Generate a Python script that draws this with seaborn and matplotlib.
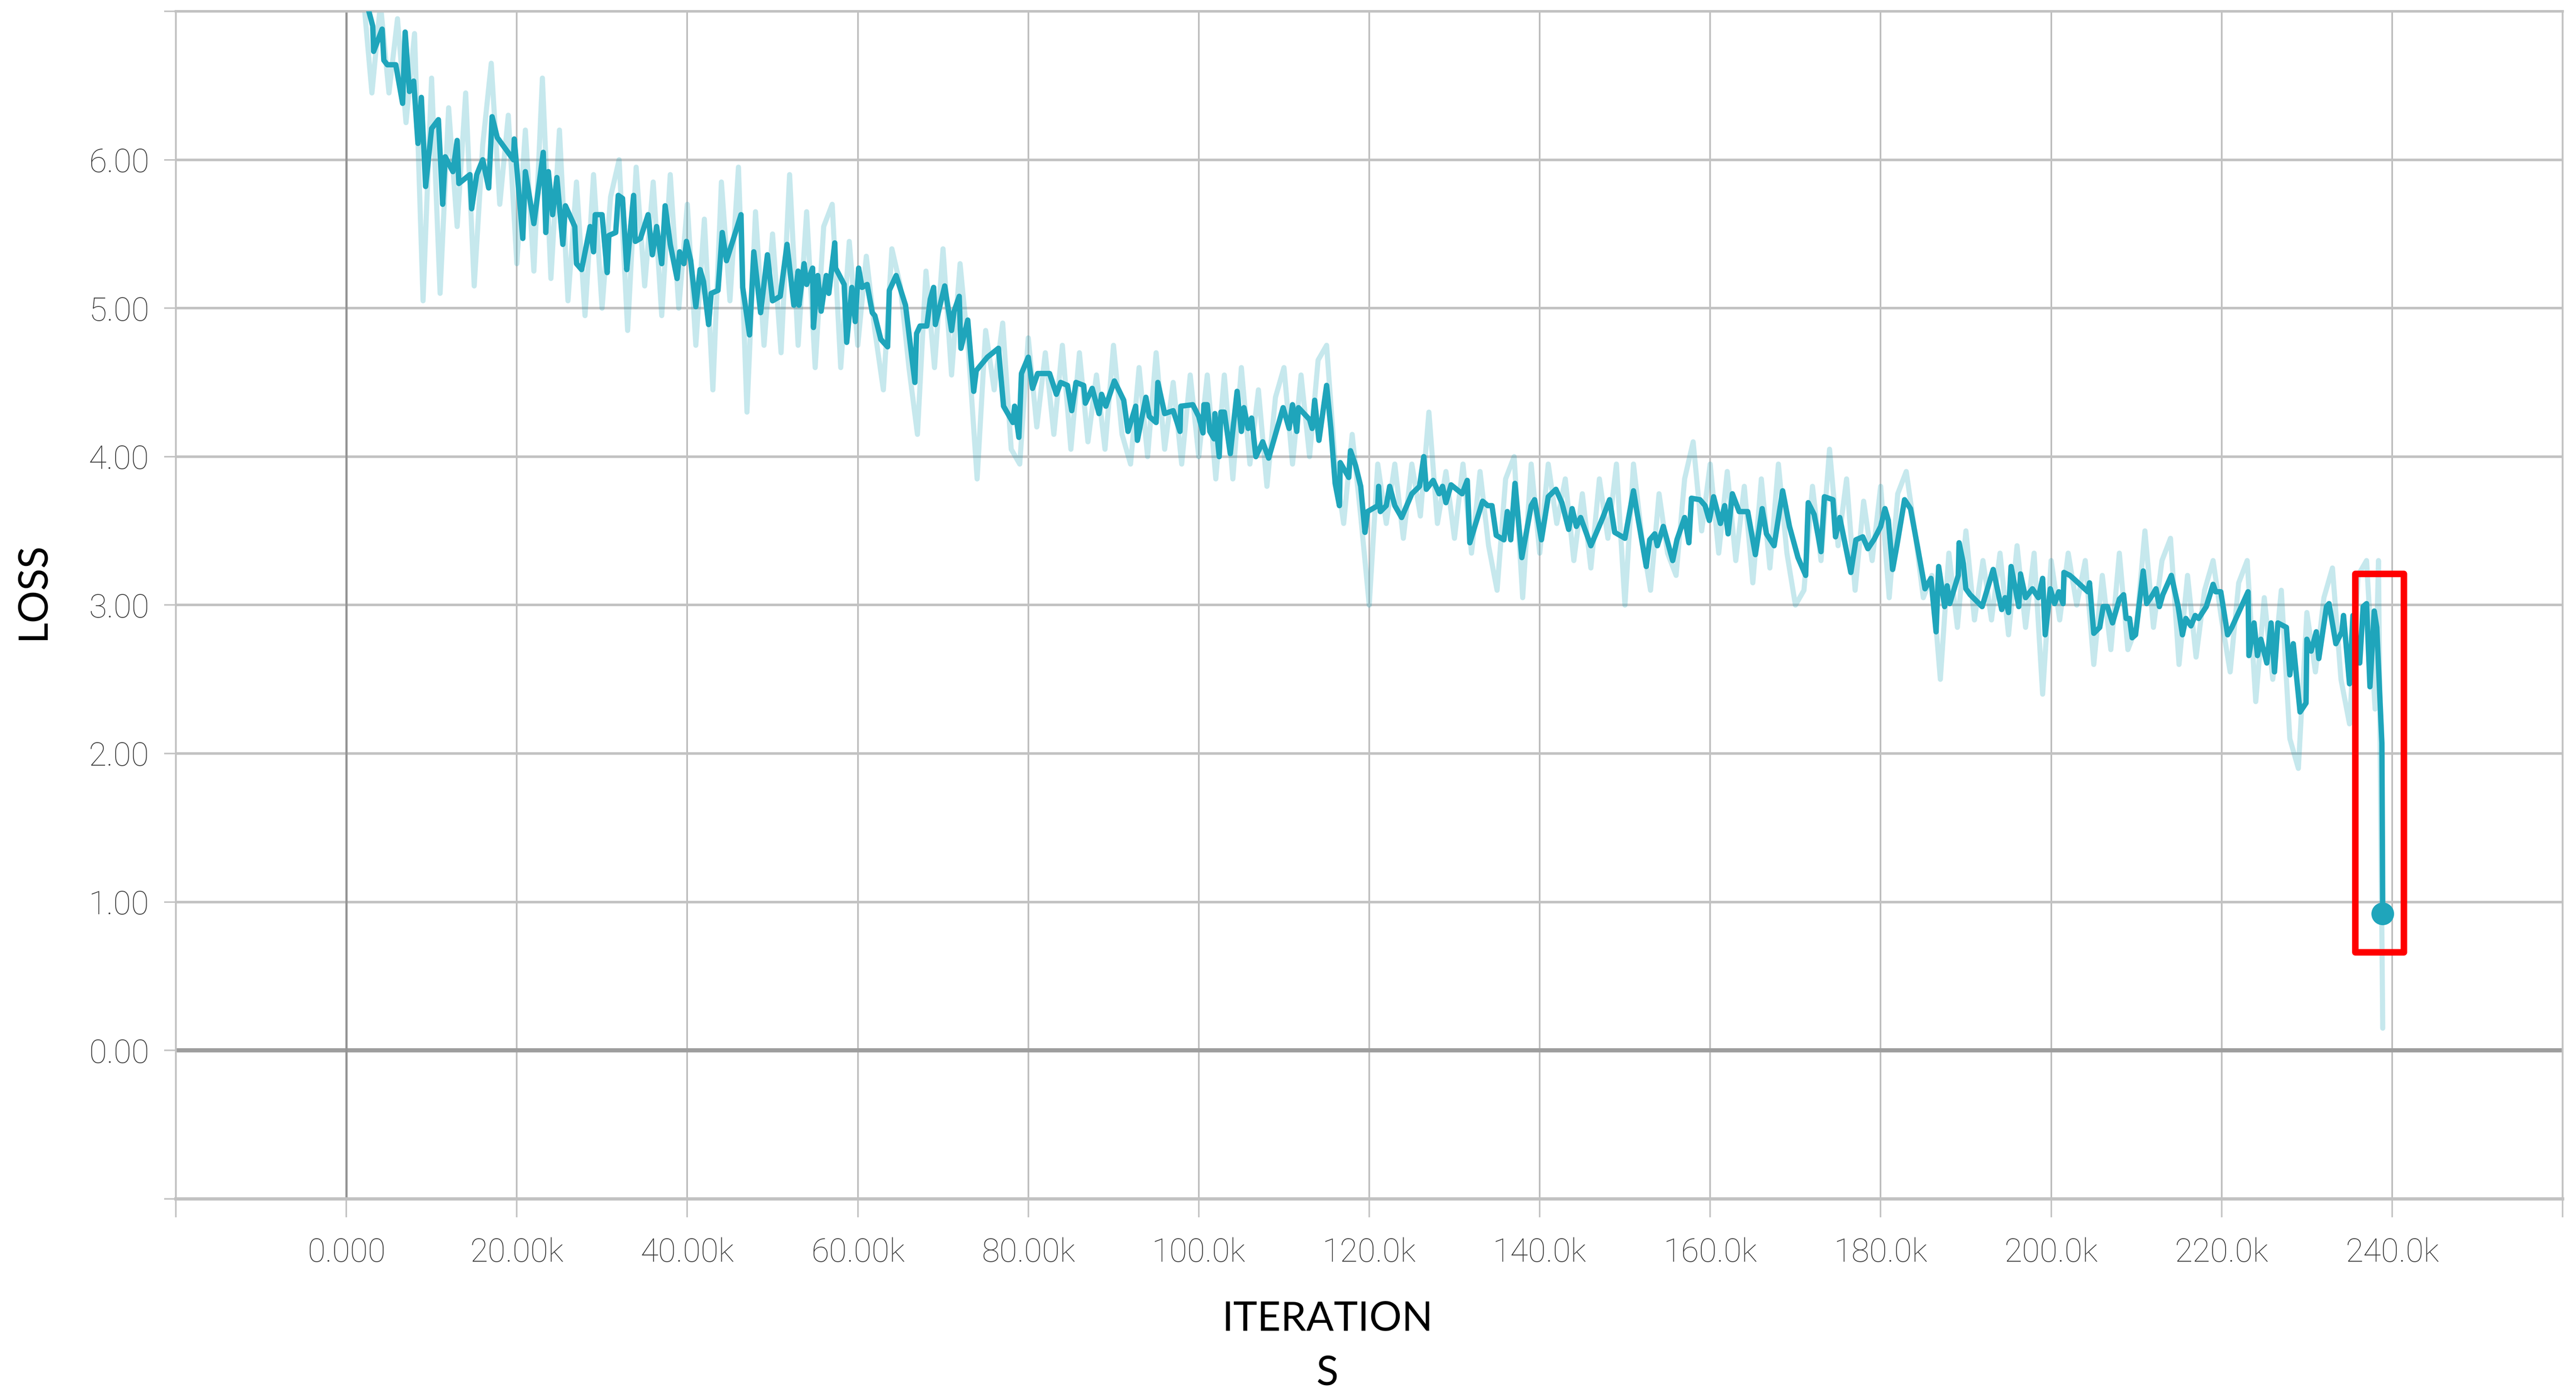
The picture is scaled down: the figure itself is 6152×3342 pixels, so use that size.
import pandas as pd
import seaborn as sns
import matplotlib.pyplot as plt
from matplotlib.patches import Rectangle

# smoothed loss curve, step in thousands of iterations
smooth_step = [
    1.5, 3.1, 3.2, 4.2, 4.4, 4.8, 5.8, 6.6, 6.9, 7.4, 7.9, 8.4, 8.8, 9.3, 10.0,
    10.8, 11.3, 11.6, 12.5, 13.0, 13.2, 14.5, 14.7, 15.3, 16.0, 16.7, 17.1, 17.7,
    19.6, 19.7, 20.7, 21.0, 22.0, 23.1, 23.4, 23.7, 24.2, 24.7, 25.4, 25.7, 26.8,
    27.0, 27.6, 28.6, 29.0, 29.2, 30.0, 30.6, 30.8, 31.6, 31.9, 32.4, 32.9, 33.2,
    33.7, 33.9, 34.5, 35.4, 35.9, 36.4, 37.0, 37.4, 38.0, 38.8, 39.1, 39.6, 39.9,
    40.4, 41.0, 41.5, 41.9, 42.5, 42.8, 43.6, 44.1, 44.6, 46.3, 46.5, 47.3, 47.8,
    48.6, 49.4, 50.0,
    50.9, 51.7, 52.5, 53.0, 53.1, 53.7, 54.0, 54.7, 54.8, 55.3, 55.7, 56.3, 56.6,
    57.3, 57.4, 58.4, 58.7, 59.3, 59.7, 60.1, 60.5, 61.1, 61.7, 62.0, 62.7, 63.5,
    63.7, 64.5, 65.6, 66.7, 66.9, 67.3, 68.1, 68.5, 68.9, 69.1, 70.2, 71.0, 71.3,
    71.9, 72.1, 72.9, 73.6, 73.9, 75.2, 76.5, 77.1, 78.2, 78.4, 78.9, 79.2, 80.0,
    80.5, 81.1, 82.5, 83.3, 83.8, 84.6, 85.1, 85.6, 86.5, 86.7, 87.5, 88.3, 88.6,
    89.1, 90.1, 91.2, 91.7, 92.6, 92.8, 93.8, 94.2, 95.0, 95.2, 96.0, 97.0, 97.8,
    97.9, 99.3,
    100.0, 100.5, 100.6, 101.0, 101.3, 101.8, 101.9, 102.4, 102.6, 103.0, 103.7,
    104.5, 105.0, 105.3, 105.8, 106.2, 106.7, 107.5, 108.2, 109.0, 109.9, 110.6,
    111.0, 111.5, 111.7, 113.0, 113.3, 113.6, 114.1, 115.0, 115.5, 116.0, 116.5,
    116.6, 117.6, 117.8, 118.4, 119.0, 119.5, 119.8, 121.0, 121.1, 121.3, 122.0,
    122.4, 123.0, 123.8, 125.0, 125.9, 126.4, 126.7, 127.5, 128.2, 128.6, 129.0,
    129.6, 130.9, 131.5, 131.8, 132.6, 133.3, 133.9, 134.4, 134.9, 135.8, 136.2,
    136.6, 137.1, 137.9, 139.0, 139.4, 140.2, 141.0, 141.9, 142.6, 143.4, 143.8,
    144.3, 144.8, 146.0, 147.4, 148.2, 148.8, 150.0,
    151.0, 151.4, 152.5, 152.9, 153.5, 153.8, 154.5, 155.6, 156.1, 157.0, 157.5,
    157.8, 158.8, 159.4, 159.9, 160.4, 161.2, 161.7, 162.1, 162.6, 163.4, 164.4,
    165.3, 166.1, 166.6, 167.5, 168.5, 169.3, 170.3, 171.2, 171.5, 172.2, 173.0,
    173.4, 174.4, 174.7, 175.2, 176.5, 177.1, 177.9, 178.5, 179.2, 180.0, 180.5,
    180.9, 181.4, 181.9, 182.8, 183.5, 184.3, 185.2, 185.9, 186.5, 186.8, 187.5,
    187.8, 188.1, 189.1, 189.2, 189.7, 190.0, 190.5, 191.9, 193.2, 194.2, 194.6,
    195.0, 195.3, 196.2, 196.4, 197.0, 197.8, 198.5, 199.0, 199.3, 199.9,
    200.4, 200.9, 201.4, 201.5, 202.2, 202.6, 204.3, 204.5, 205.0, 205.7, 206.1,
    206.6, 207.2, 208.0, 208.5, 208.8, 209.2, 209.5, 209.9, 210.8, 211.2, 211.9,
    212.3, 212.7, 213.1, 214.1, 214.9, 215.4, 215.8, 216.4, 216.9, 217.3, 218.2,
    219.0, 219.3, 219.9, 220.7, 221.2, 223.1, 223.2, 223.8, 224.2, 224.6, 225.3,
    225.8, 226.2, 226.6, 227.6, 228.0, 228.4, 229.2, 229.9, 230.0, 230.5, 231.1,
    231.4, 232.3, 232.6, 233.4, 234.1, 234.3, 235.0, 235.4, 236.2, 236.6, 237.0,
    237.4, 237.9, 238.2, 238.8, 238.9,
]
smooth_loss = [
    7.25, 6.90, 6.73, 6.88, 6.67, 6.64, 6.64, 6.38, 6.86, 6.46, 6.53, 6.11, 6.42, 5.82, 6.21,
    6.27, 5.70, 6.02, 5.92, 6.13, 5.84, 5.90, 5.67, 5.90, 6.00, 5.81, 6.29, 6.15,
    6.00, 6.14, 5.47, 5.92, 5.57, 6.05, 5.51, 5.92, 5.63, 5.88, 5.43, 5.69, 5.55,
    5.30, 5.26, 5.55, 5.38, 5.63, 5.63, 5.24, 5.49, 5.51, 5.76, 5.74, 5.26, 5.45,
    5.76, 5.45, 5.47, 5.63, 5.36, 5.55, 5.30, 5.69, 5.43, 5.20, 5.38, 5.30, 5.45,
    5.32, 5.01, 5.26, 5.18, 4.89, 5.10, 5.12, 5.51, 5.32, 5.63, 5.14, 4.82, 5.38,
    4.97, 5.36, 5.05,
    5.08, 5.43, 5.02, 5.25, 5.02, 5.30, 5.16, 5.27, 4.87, 5.22, 4.98, 5.22, 5.10,
    5.44, 5.27, 5.16, 4.77, 5.14, 4.91, 5.27, 5.14, 5.16, 4.97, 4.95, 4.79, 4.74,
    5.12, 5.22, 5.02, 4.50, 4.83, 4.88, 4.88, 5.06, 5.14, 4.89, 5.15, 4.85, 4.98,
    5.08, 4.73, 4.92, 4.44, 4.58, 4.67, 4.73, 4.34, 4.23, 4.34, 4.13, 4.56, 4.67,
    4.46, 4.56, 4.56, 4.42, 4.50, 4.48, 4.31, 4.50, 4.48, 4.36, 4.46, 4.29, 4.42,
    4.34, 4.51, 4.38, 4.17, 4.34, 4.11, 4.40, 4.27, 4.23, 4.50, 4.29, 4.31, 4.17,
    4.34, 4.35,
    4.27, 4.16, 4.35, 4.35, 4.17, 4.12, 4.29, 4.00, 4.30, 4.30, 4.02,
    4.44, 4.17, 4.33, 4.19, 4.26, 4.00, 4.10, 3.99, 4.15, 4.33, 4.19,
    4.35, 4.17, 4.33, 4.25, 4.19, 4.38, 4.11, 4.48, 4.19, 3.82, 3.67,
    3.96, 3.86, 4.04, 3.94, 3.80, 3.49, 3.63, 3.67, 3.80, 3.63, 3.67,
    3.80, 3.67, 3.59, 3.75, 3.80, 4.00, 3.78, 3.84, 3.75, 3.80, 3.69,
    3.81, 3.75, 3.84, 3.42, 3.57, 3.70, 3.67, 3.67, 3.47, 3.44, 3.63,
    3.44, 3.82, 3.32, 3.67, 3.71, 3.44, 3.73, 3.78, 3.69, 3.51, 3.65,
    3.53, 3.59, 3.40, 3.59, 3.71, 3.49, 3.45,
    3.77, 3.63, 3.26, 3.44, 3.48, 3.40, 3.53, 3.30, 3.44, 3.59, 3.42,
    3.72, 3.71, 3.67, 3.57, 3.73, 3.55, 3.67, 3.48, 3.75, 3.63, 3.63,
    3.34, 3.65, 3.48, 3.40, 3.77, 3.53, 3.32, 3.20, 3.69, 3.61, 3.36,
    3.73, 3.71, 3.46, 3.59, 3.22, 3.44, 3.46, 3.38, 3.44, 3.53, 3.65,
    3.57, 3.24, 3.40, 3.71, 3.65, 3.40, 3.11, 3.18, 2.82, 3.26, 2.99,
    3.13, 3.01, 3.20, 3.42, 3.28, 3.11, 3.07, 2.99, 3.24, 2.97, 3.05,
    2.95, 3.26, 2.99, 3.21, 3.05, 3.11, 3.05, 3.18, 2.80, 3.11,
    3.01, 3.09, 3.01, 3.22, 3.20, 3.18, 3.09, 3.15, 2.81, 2.85, 2.99,
    2.99, 2.88, 3.04, 3.07, 2.91, 2.91, 2.78, 2.80, 3.23, 3.01, 3.07,
    3.11, 2.99, 3.07, 3.20, 2.99, 2.80, 2.91, 2.86, 2.93, 2.91, 2.99,
    3.14, 3.09, 3.09, 2.80, 2.85, 3.09, 2.66, 2.88, 2.66, 2.77, 2.61,
    2.88, 2.55, 2.88, 2.85, 2.53, 2.74, 2.28, 2.34, 2.77, 2.69, 2.82,
    2.64, 2.99, 3.01, 2.74, 2.82, 2.93, 2.47, 2.93, 2.61, 2.99, 3.01,
    2.45, 2.96, 2.85, 2.07, 0.92,
]

# raw (unsmoothed) loss, step in thousands of iterations
raw_step = list(range(1, 239)) + [238.4, 238.9]
raw_loss = [
    7.6, 7.1, 6.45, 7.05, 6.45, 6.95, 6.25, 6.85, 5.05, 6.55,
    5.1, 6.35, 5.55, 6.45, 5.15, 6.1, 6.65, 5.7, 6.3, 5.3,
    6.2, 5.25, 6.55, 5.2, 6.2, 5.05, 5.85, 4.95, 5.9, 5.0,
    5.75, 6.0, 4.85, 5.95, 5.15, 5.85, 4.95, 5.9, 5.0, 5.7,
    4.75, 5.6, 4.45, 5.85, 5.05, 5.95, 4.3, 5.65, 4.75, 5.5,
    4.7, 5.9, 4.75, 5.65, 4.6, 5.55, 5.7, 4.6, 5.45, 4.75,
    5.35, 4.85, 4.45, 5.4, 5.15, 4.6, 4.15, 5.25, 4.6, 5.4,
    4.55, 5.3, 4.7, 3.85, 4.85, 4.45, 4.9, 4.05, 3.95, 4.8,
    4.2, 4.7, 4.15, 4.75, 4.05, 4.7, 4.1, 4.55, 4.05, 4.75,
    4.15, 3.95, 4.6, 4.0, 4.7, 4.05, 4.5, 3.95, 4.55, 4.0,
    4.55, 3.85, 4.55, 3.85, 4.6, 3.95, 4.45, 3.8, 4.4, 4.6,
    3.95, 4.55, 4.0, 4.65, 4.75, 3.95, 3.55, 4.15, 3.6, 3.0,
    3.95, 3.55, 3.95, 3.45, 3.95, 3.6, 4.3, 3.55, 3.9, 3.45,
    3.95, 3.35, 3.9, 3.4, 3.1, 3.85, 4.0, 3.05, 3.95, 3.35,
    3.95, 3.55, 3.85, 3.3, 3.75, 3.25, 3.85, 3.45, 3.95, 3.0,
    3.95, 3.45, 3.1, 3.75, 3.35, 3.2, 3.85, 4.1, 3.5, 3.95,
    3.35, 3.9, 3.3, 3.8, 3.15, 3.85, 3.25, 3.95, 3.35, 3.0,
    3.1, 3.8, 3.3, 4.05, 3.4, 3.85, 3.1, 3.7, 3.3, 3.8,
    3.05, 3.75, 3.9, 3.5, 3.05, 3.2, 2.5, 3.35, 2.85, 3.5,
    2.9, 3.3, 2.9, 3.35, 2.8, 3.4, 2.85, 3.35, 2.4, 3.3,
    2.9, 3.35, 3.0, 3.3, 2.6, 3.2, 2.7, 3.35, 2.7, 2.85,
    3.5, 2.85, 3.3, 3.45, 2.6, 3.2, 2.65, 3.1, 3.3, 2.9,
    2.55, 3.15, 3.3, 2.35, 3.05, 2.5, 3.1, 2.1, 1.9, 2.95,
    2.55, 3.05, 3.25, 2.5, 2.2, 3.2, 3.3, 2.3,
    3.3, 0.15,
]

x_ticks = [-20, 0, 20, 40, 60, 80, 100, 120, 140, 160, 180, 200, 220, 240, 260]
x_labels = ["", "0.000", "20.00k", "40.00k", "60.00k", "80.00k", "100.0k", "120.0k",
            "140.0k", "160.0k", "180.0k", "200.0k", "220.0k", "240.0k", ""]
y_ticks = [-1, 0, 1, 2, 3, 4, 5, 6, 7]
y_labels = ["", "0.00", "1.00", "2.00", "3.00", "4.00", "5.00", "6.00", ""]

# highlight box around the final drop (iterations in k, loss)
box_x0, box_x1 = 235.7, 241.4
box_y0, box_y1 = 0.66, 3.21

teal = "#1fa5bb"
grid_col = "#c2c2c2"

sns.set_theme(style="white")
plt.rcParams["font.family"] = ["Roboto", "DejaVu Sans"]

raw = pd.DataFrame({"step": [s * 1000 for s in raw_step], "loss": raw_loss})
smooth = pd.DataFrame({"step": [s * 1000 for s in smooth_step], "loss": smooth_loss})

fig = plt.figure(figsize=(30.76, 16.71), dpi=200)
ax = fig.add_axes([0.06827, 0.14303, 0.92653, 0.84889])

sns.lineplot(data=raw, x="step", y="loss", color=teal, alpha=0.25, linewidth=4.4,
             estimator=None, sort=False, ax=ax, zorder=2)
sns.lineplot(data=smooth, x="step", y="loss", color=teal, linewidth=4.6,
             estimator=None, sort=False, ax=ax, zorder=3)
sns.scatterplot(x=[smooth["step"].iloc[-1]], y=[smooth["loss"].iloc[-1]],
                color=teal, s=380, edgecolor="none", ax=ax, zorder=4)

ax.set_xlim(-20000, 260000)
ax.set_ylim(-1, 7)
ax.set_xticks([t * 1000 for t in x_ticks])
ax.set_xticklabels(x_labels, fontweight="light", fontsize=28, color="#3a3a3a")
ax.set_yticks(y_ticks)
ax.set_yticklabels(y_labels, fontweight="light", fontsize=28, color="#3a3a3a")
ax.tick_params(axis="x", length=16, width=1.3, color=grid_col, pad=17, bottom=True)
ax.tick_params(axis="y", length=10, width=1.3, color=grid_col, pad=13, left=True)

ax.grid(axis="y", color=grid_col, lw=2.2, zorder=0)
ax.grid(axis="x", color="#bdbdbd", lw=1.4, zorder=0)
ax.set_axisbelow(True)
ax.axhline(0, color="#9e9e9e", lw=3.6, zorder=1)
ax.axvline(0, color="#959595", lw=1.9, zorder=1)

for side in ["top", "right", "left"]:
    ax.spines[side].set_color(grid_col)
    ax.spines[side].set_linewidth(1.6)
ax.spines["top"].set_linewidth(2.2)
ax.spines["bottom"].set_color(grid_col)
ax.spines["bottom"].set_linewidth(2.8)

ax.set_xlabel("")
ax.set_ylabel("")

ax.add_patch(Rectangle((box_x0 * 1000, box_y0), (box_x1 - box_x0) * 1000, box_y1 - box_y0,
                       fill=False, edgecolor="#ff0000", lw=5.6, joinstyle="round",
                       zorder=5, clip_on=False))

fig.text(0.5153, 0.0375, "ITERATION\nS", ha="center", va="center", fontsize=35,
         family=["Lato", "DejaVu Sans"], color="black", linespacing=1.6)
fig.text(0.0127, 0.5775, "LOSS", ha="center", va="center", rotation=90, fontsize=35,
         family=["Lato", "DejaVu Sans"], color="black")

plt.savefig("out.png", dpi=200)
